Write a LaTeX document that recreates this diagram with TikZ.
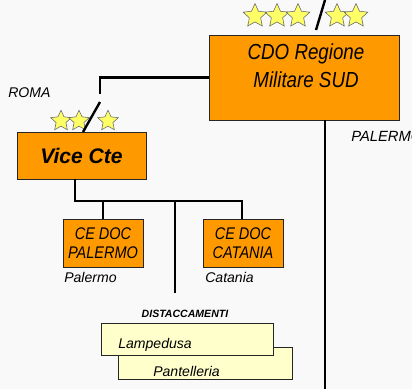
\documentclass[tikz,border=0pt]{standalone}
\usepackage{fontspec}
\setmainfont{Liberation Sans}
\newfontfamily\narrowsans[FakeStretch=0.86]{Liberation Sans}
\usetikzlibrary{shapes.geometric}

\definecolor{orgbox}{HTML}{FF9900}
\definecolor{creambox}{HTML}{FFFFCC}
\definecolor{staryel}{HTML}{FFFF66}
\definecolor{bgpage}{HTML}{F9F9F9}

\tikzset{
    orgnode/.style={draw=black!85, fill=orgbox, line width=0.6pt, inner sep=0pt, align=center},
    cream/.style={draw=black!85, fill=creambox, line width=0.6pt, inner sep=0pt},
    rank/.style={star, star points=5, star point ratio=2.1, draw=black!60, fill=staryel, line width=0.4pt, inner sep=0pt},
    tag/.style={inner sep=0pt, anchor=base west, font=\itshape\fontsize{10}{12}\selectfont},
    wire/.style={line width=1.7pt, black}
}

\begin{document}
\begin{tikzpicture}[x=0.025cm, y=-0.025cm]
    \fill[bgpage] (0,0) rectangle (412,389);
    \useasboundingbox (0,0) rectangle (412,389);

    % Comando regione
    \node[orgnode, minimum width=4.75cm, minimum height=2.125cm] (cdo) at (304,77.5) {};
    \node[inner sep=0pt, align=center, font=\narrowsans\itshape\fontsize{15.5}{20}\selectfont] (cdotxt) at (306,66) {CDO Regione\\Militare SUD};
    \node[rank, minimum size=0.62cm] (c1) at (255,16) {};
    \node[rank, minimum size=0.62cm] (c2) at (277,16) {};
    \node[rank, minimum size=0.62cm] (c3) at (298,16) {};
    \node[rank, minimum size=0.62cm] (c4) at (337,16) {};
    \node[rank, minimum size=0.62cm] (c5) at (356,16) {};
    \coordinate (cslashA) at (316,30);
    \coordinate (cslashB) at (325,0);
    \draw[wire] (cslashA) -- (cslashB);

    % Vice comandante
    \node[orgnode, minimum width=3.225cm, minimum height=1.175cm,
          font=\bfseries\itshape\fontsize{15}{18}\selectfont] (vice) at (81.5,155.5) {Vice Cte};
    \node[rank, minimum size=0.54cm] (v1) at (61,121) {};
    \node[rank, minimum size=0.54cm] (v2) at (79,121) {};
    \node[rank, minimum size=0.54cm] (v3) at (108,121) {};
    \coordinate (vcorner) at (100,94);
    \coordinate (vslashA) at (100,102);
    \coordinate (vslashB) at (83,132);
    \draw[wire] (cdo.west) -| (vcorner);
    \draw[wire] (vslashA) -- (vslashB);

    % Centri documentali
    \node[orgnode, minimum width=2cm, minimum height=1.2cm,
          font=\narrowsans\itshape\fontsize{12}{13.5}\selectfont] (cepal) at (103,243) {CE DOC\\PALERMO};
    \node[orgnode, minimum width=2cm, minimum height=1.2cm,
          font=\narrowsans\itshape\fontsize{12}{13.5}\selectfont] (cecat) at (243,243) {CE DOC\\CATANIA};
    \coordinate (busL) at (75,201);
    \coordinate (busR) at (242,201);
    \coordinate (distop) at (175,293);
    \draw[wire] (busL |- vice.south) -- (busL) -- (busR) -- (busR |- cecat.north);
    \draw[wire] (cepal.north |- busL) -- (cepal.north);
    \draw[wire] (distop |- busL) -- (distop);

    % Distaccamenti
    \node[inner sep=0pt, anchor=base, font=\bfseries\itshape\fontsize{7.5}{9}\selectfont] (dist) at (185,317) {DISTACCAMENTI};
    \node[cream, minimum width=4.35cm, minimum height=0.8cm] (pant) at (205,363) {};
    \node[cream, minimum width=4.3cm, minimum height=0.8cm] (lamp) at (187,339) {};
    \node[tag] (lamplbl) at (118,348) {Lampedusa};
    \node[tag] (pantlbl) at (153,376) {Pantelleria};

    % Sedi
    \node[tag] (roma) at (8,97) {ROMA};
    \node[tag, font=\itshape\fontsize{10.5}{12}\selectfont] (palsede) at (351,141) {PALERMO};
    \node[tag] (palcity) at (64,282) {Palermo};
    \node[tag] (catcity) at (205,282) {Catania};
    \coordinate (palbot) at (325,389);
    \draw[wire] (palbot |- cdo.south) -- (palbot);
\end{tikzpicture}
\end{document}
